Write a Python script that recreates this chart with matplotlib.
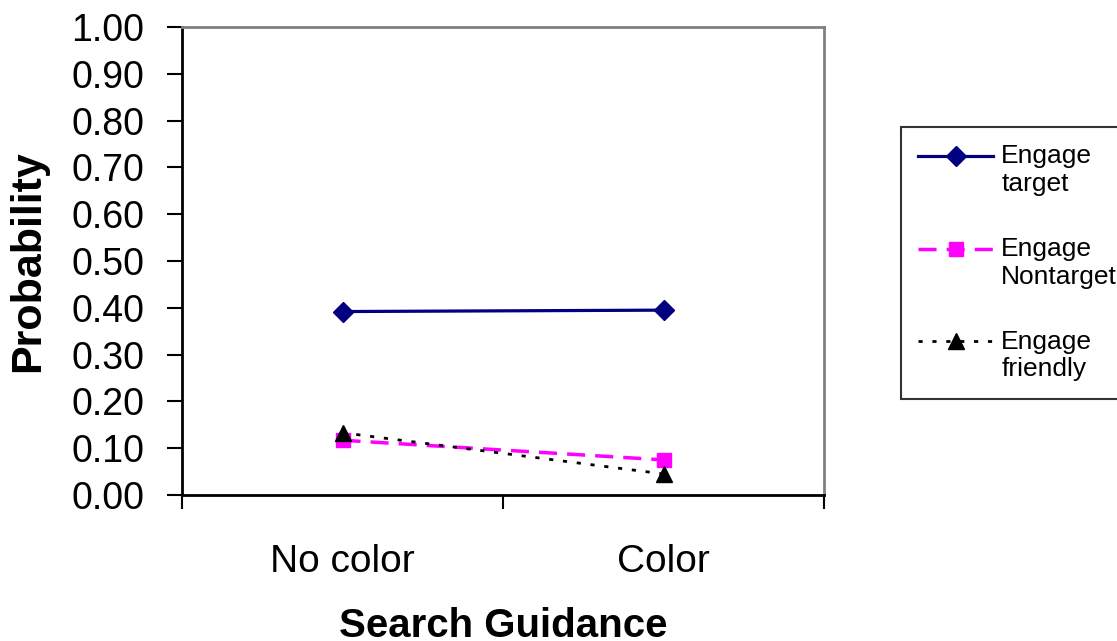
import matplotlib
matplotlib.use("Agg")
import matplotlib.pyplot as plt
import numpy as np
from matplotlib.legend_handler import HandlerLine2D

plt.rcParams['font.family'] = ['Liberation Sans', 'DejaVu Sans']

categories = ["No color", "Color"]
engage_target = [0.392, 0.395]
engage_nontarget = [0.117, 0.075]
engage_friendly = [0.133, 0.045]


class TopLineHandler(HandlerLine2D):
    """put the legend line at the first text line, like excel does"""
    def __init__(self, shift, **kw):
        HandlerLine2D.__init__(self, **kw)
        self.shift = shift

    def create_artists(self, legend, orig_handle, xdescent, ydescent,
                       width, height, fontsize, trans):
        arts = HandlerLine2D.create_artists(self, legend, orig_handle, xdescent,
                                            ydescent, width, height, fontsize, trans)
        for a in arts:
            a.set_ydata(np.asarray(a.get_ydata()) + self.shift)
        return arts


fig = plt.figure(figsize=(11.17, 6.41), dpi=100)
ax = fig.add_axes([182/1117, 1 - 495/641, (824-182)/1117, (495-27)/641])

x = range(len(categories))
l1, = ax.plot(x, engage_target, color='#000080', lw=2.3, marker='D', ms=10,
              label="Engage\ntarget")
l2, = ax.plot(x, engage_nontarget, color='#FF00FF', lw=2.5, marker='s', ms=10,
              dashes=(5.2, 2.9), label="Engage\nNontarget")
l3, = ax.plot(x, engage_friendly, color='black', lw=2, marker='^', ms=11,
              dashes=(1.5, 3.5), label="Engage\nfriendly")

ax.set_xlim(-0.5, 1.5)
ax.set_ylim(0, 1.0)
ax.set_yticks([i / 10 for i in range(11)])
ax.set_yticklabels(["%.2f" % (i / 10) for i in range(11)])
ax.set_xticks([-0.5, 0.5, 1.5])
ax.set_xticklabels([])
ax.set_xticks(list(x), minor=True)
ax.set_xticklabels(categories, minor=True)
ax.tick_params(axis='x', which='minor', length=0, pad=35, labelsize=28)
ax.tick_params(axis='x', which='major', direction='out', length=10, width=1.5)
ax.tick_params(axis='y', direction='out', length=11, width=1.5, labelsize=27, pad=16)

for s in ['top', 'right']:
    ax.spines[s].set_color('#808080')
    ax.spines[s].set_linewidth(2)
for s in ['left', 'bottom']:
    ax.spines[s].set_color('black')
    ax.spines[s].set_linewidth(2)

ax.set_xlabel("Search Guidance", fontsize=29, fontweight='bold', labelpad=20)
ax.set_ylabel("Probability", fontsize=31, fontweight='bold')
ax.yaxis.set_label_coords(-0.208, 0.5)

fs = 19
hmap = {l: TopLineHandler(fs * 0.55) for l in (l1, l2, l3)}
leg = fig.legend(handles=[l1, l2, l3], handler_map=hmap,
                 loc='upper left', bbox_to_anchor=(901/1117, 1 - 127/641),
                 fontsize=fs, frameon=True, fancybox=False, edgecolor='black',
                 handlelength=2.85, handletextpad=0.3, labelspacing=1.55,
                 borderpad=0.65, borderaxespad=0)
leg.get_frame().set_linewidth(1.5)

fig.savefig("out.png", dpi=100)
